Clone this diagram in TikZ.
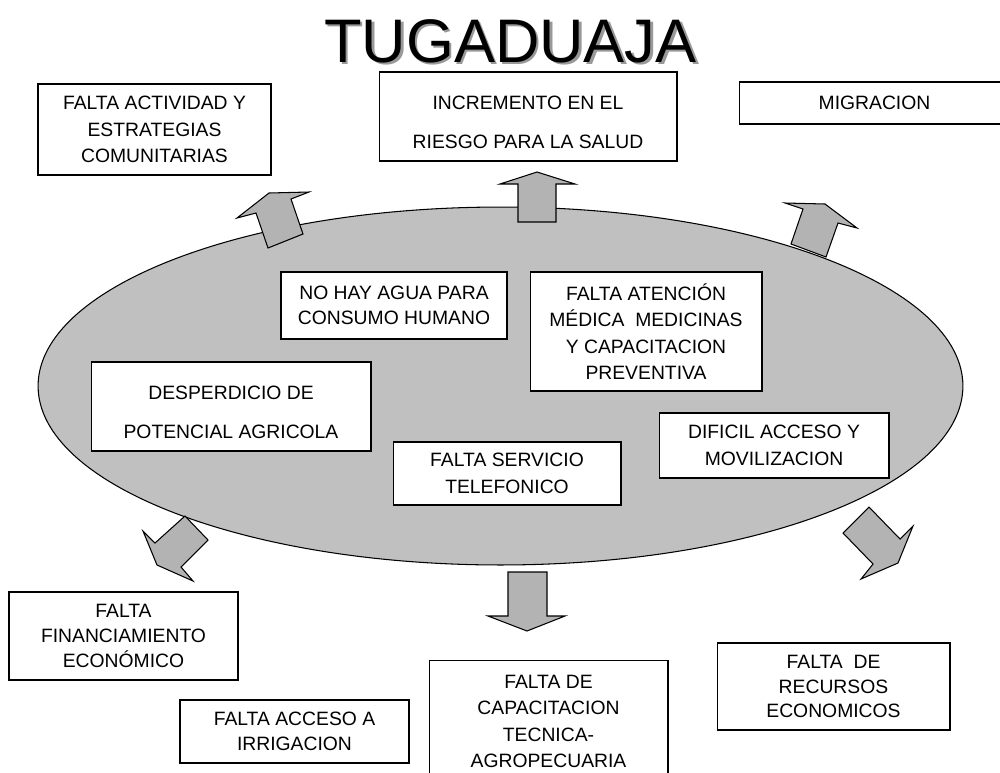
\documentclass[tikz,border=0pt]{standalone}
\usepackage{fontspec}
\setmainfont{Liberation Sans}
\usetikzlibrary{positioning,shapes.geometric}
\definecolor{ovalgray}{RGB}{192,192,192}
\definecolor{arrowgray}{RGB}{179,179,179}

\begin{document}
\begin{tikzpicture}[x=0.02cm, y=-0.02cm,
	box/.style={draw=black, fill=white, line width=0.6pt, align=center, inner sep=0pt, font=\fontsize{11}{15}\selectfont},
	boxsize/.style 2 args={minimum width=#1cm, minimum height=#2cm},
	tight/.style={font=\fontsize{11}{14}\selectfont},
	wide/.style={font=\fontsize{11}{22}\selectfont, align=center, yshift=-0.12cm},
	blockarrow/.style={draw=black, fill=arrowgray, line width=0.6pt, line join=miter}]
		\useasboundingbox (0,0) rectangle (1000,772);
		
		\node[anchor=base, text=gray!80, font=\fontsize{35}{40}\selectfont] (titleshadow) at (513,64.5) {TUGADUAJA};
		\node[anchor=base, font=\fontsize{35}{40}\selectfont] (title) at (510.5,62) {TUGADUAJA};
		
		\node[ellipse, draw=black, fill=ovalgray, line width=0.6pt, minimum width=18.5cm, minimum height=7.16cm] (oval) at (500.5,386) {};
		
		\draw[blockarrow] (237,218) -- (269,193) -- (309,192) -- (291,199) -- (303,234) -- (268,248) -- (256,213) -- cycle;
		\draw[blockarrow] (518,222) -- (518,184) -- (500,184) -- (537,172) -- (575,184) -- (556,184) -- (556,222) -- cycle;
		\draw[blockarrow] (785,203) -- (825,204) -- (857,228) -- (838,223) -- (826,257) -- (791,244) -- (803,209) -- cycle;
		\draw[blockarrow] (185,516) -- (208,540) -- (181,567) -- (193,581) -- (157,565) -- (143,531) -- (155,543) -- cycle;
		\draw[blockarrow] (869,507) -- (843,533) -- (873,564) -- (861,579) -- (898,563) -- (913,526) -- (900,539) -- cycle;
		\draw[blockarrow] (508,572) -- (547,572) -- (547,616) -- (565,616) -- (527,631) -- (488,616) -- (508,616) -- cycle;
		
		% top row
		\node[box, boxsize={4.66}{1.82}] (actividad) at (154.5,129.5) {FALTA ACTIVIDAD Y\\ESTRATEGIAS\\COMUNITARIAS};
		\node[box, boxsize={5.96}{1.78}, label={[wide]center:INCREMENTO EN EL\\RIESGO PARA LA SALUD}] (salud) at (528,116.5) {};
		\node[box, boxsize={5.42}{0.84}] (migracion) at (874.5,103) {MIGRACION};
		
		% inside the oval
		\node[box, tight, boxsize={4.52}{1.34}] (agua) at (394,305.5) {NO HAY AGUA PARA\\CONSUMO HUMANO};
		\node[box, boxsize={4.64}{2.38}] (atencion) at (646,331.5) {FALTA ATENCIÓN\\MÉDICA~ MEDICINAS\\Y CAPACITACION\\PREVENTIVA};
		\node[box, boxsize={5.6}{1.78}, label={[wide]center:DESPERDICIO DE\\POTENCIAL AGRICOLA}] (desperdicio) at (231,406.5) {};
		\node[box, boxsize={4.56}{1.26}] (telefono) at (507,473.5) {FALTA SERVICIO\\TELEFONICO};
		\node[box, boxsize={4.6}{1.3}] (acceso) at (774,445.5) {DIFICIL ACCESO Y\\MOVILIZACION};
		
		% bottom row
		\node[box, tight, boxsize={4.58}{1.76}] (financiamiento) at (123.5,636) {FALTA\\FINANCIAMIENTO\\ECONÓMICO};
		\node[box, tight, boxsize={4.58}{1.26}] (irrigacion) at (294.5,731.5) {FALTA ACCESO A\\IRRIGACION};
		\node[box, boxsize={4.78}{2.46}] (capacitacion) at (548.5,721.5) {FALTA DE\\CAPACITACION\\TECNICA-\\AGROPECUARIA};
		\node[box, tight, boxsize={4.66}{1.74}] (recursos) at (833.5,686.5) {FALTA~ DE\\RECURSOS\\ECONOMICOS};
\end{tikzpicture}
\end{document}
